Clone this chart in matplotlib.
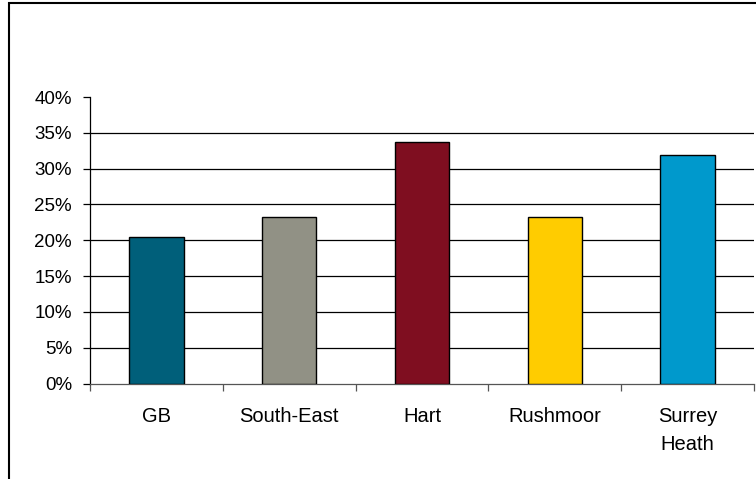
import matplotlib.pyplot as plt
from matplotlib.patches import Rectangle

# Data
areas = ['GB', 'South-East', 'Hart', 'Rushmoor', 'Surrey\nHeath']
shares = [20.4, 23.3, 33.7, 23.3, 31.9]
colors = ['#005F7A', '#919185', '#7F0E20', '#FFCC00', '#0099CC']
yticks = [0, 5, 10, 15, 20, 25, 30, 35, 40]

plt.rcParams['font.family'] = ['Liberation Sans', 'DejaVu Sans']

fig = plt.figure(figsize=(7.56, 4.79), dpi=100)
ax = fig.add_axes([90 / 756, 1 - 383.5 / 479, 664 / 756, 286.5 / 479])

x = range(len(areas))
ax.bar(x, shares, width=0.41, color=colors, edgecolor='black', linewidth=1.0, zorder=3)

# horizontal gridlines (none on the top value)
for v in yticks[1:-1]:
    ax.axhline(v, color='black', linewidth=0.9, zorder=1)

ax.set_xlim(-0.5, len(areas) - 0.5)
ax.set_ylim(0, 40)
ax.set_yticks(yticks)
ax.set_yticklabels([f'{v}%' for v in yticks])
ax.set_xticks(list(x))
ax.set_xticklabels(areas, linespacing=1.6)
ax.set_xticks([i - 0.5 for i in range(len(areas) + 1)], minor=True)

ax.tick_params(axis='y', length=5, width=0.9, pad=8, labelsize=13.5, color='black')
ax.tick_params(axis='x', which='major', length=0, pad=17, labelsize=14.5)
ax.tick_params(axis='x', which='minor', length=5, width=0.9, color='#555555')

for side in ['top', 'right']:
    ax.spines[side].set_visible(False)
ax.spines['left'].set_color('black')
ax.spines['left'].set_linewidth(0.9)
ax.spines['bottom'].set_color('#555555')
ax.spines['bottom'].set_linewidth(0.9)

# outer chart frame, running off the right and bottom edges
fig.patches.append(Rectangle((9 / 756, -0.05), 1.0, 1 - 3 / 479 + 0.05,
                             transform=fig.transFigure, fill=False,
                             edgecolor='black', linewidth=1.5))

fig.savefig('out.png', dpi=100)
